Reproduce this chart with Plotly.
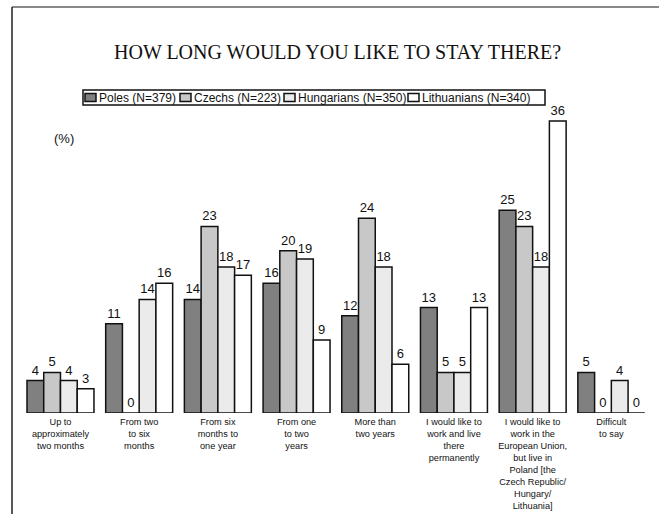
import plotly.graph_objects as go

categories = [
    "Up to<br>approximately<br>two months",
    "From two<br>to six<br>months",
    "From six<br>months to<br>one year",
    "From one<br>to two<br>years",
    "More than<br>two years",
    "I would like to<br>work and live<br>there<br>permanently",
    "I would like to<br>work in the<br>European Union,<br>but live in<br>Poland [the<br>Czech Republic/<br>Hungary/<br>Lithuania]",
    "Difficult<br>to say",
]
series_names = ["Poles (N=379)", "Czechs (N=223)", "Hungarians (N=350)", "Lithuanians (N=340)"]
poles = [4, 11, 14, 16, 12, 13, 25, 5]
czechs = [5, 0, 23, 20, 24, 5, 23, 0]
hungarians = [4, 14, 18, 19, 18, 5, 18, 4]
lithuanians = [3, 16, 17, 9, 6, 13, 36, 0]
series_values = [poles, czechs, hungarians, lithuanians]
series_colors = ["#808080", "#c8c8c8", "#ebebeb", "#ffffff"]

W, H = 659, 514
L, R, T, B = 12, 8, 60, 101
PW, PH = W - L - R, H - T - B


def px(x):
    return (x - L) / PW


def py(y):
    return (H - B - y) / PH


xs = list(range(len(categories)))
fig = go.Figure()
for name, vals, col in zip(series_names, series_values, series_colors):
    fig.add_trace(go.Bar(
        x=xs, y=vals, name=name,
        marker=dict(color=col, line=dict(color="#111111", width=1.5)),
        text=[str(v) for v in vals], textposition="outside",
        textfont=dict(family="Arial", size=13, color="#111111"),
        cliponaxis=False, showlegend=False,
    ))

shapes = []
annotations = []
# frame lines
shapes.append(dict(type="line", xref="paper", yref="paper", x0=px(12), x1=px(W), y0=py(7), y1=py(7),
                   line=dict(color="#888888", width=2)))
shapes.append(dict(type="line", xref="paper", yref="paper", x0=px(12), x1=px(12), y0=py(7), y1=py(H),
                   line=dict(color="#222222", width=1.5)))
# custom legend
shapes.append(dict(type="rect", xref="paper", yref="paper", x0=px(83), x1=px(545), y0=py(90), y1=py(105),
                   line=dict(color="#111111", width=1.5), fillcolor="white"))
leg_x = [85, 180, 284, 408]
for lx, name, col in zip(leg_x, series_names, series_colors):
    shapes.append(dict(type="rect", xref="paper", yref="paper", x0=px(lx), x1=px(lx + 11),
                       y0=py(93.5), y1=py(101.5), line=dict(color="#111111", width=1.5), fillcolor=col))
    annotations.append(dict(xref="paper", yref="paper", x=px(lx + 12), y=py(97.5), text=name,
                            showarrow=False, xanchor="left", yanchor="middle",
                            font=dict(family="Arial", size=12, color="#111111")))

annotations.append(dict(xref="paper", yref="paper", x=px(337), y=py(52),
                        text="HOW LONG WOULD YOU LIKE TO STAY THERE?", showarrow=False,
                        xanchor="center", yanchor="middle",
                        font=dict(family="Liberation Serif", size=20, color="#111111")))
annotations.append(dict(xref="paper", yref="paper", x=px(64), y=py(138), text="(%)",
                        showarrow=False, xanchor="center", yanchor="middle",
                        font=dict(family="Arial", size=13, color="#111111")))

fig.update_layout(
    width=W, height=H,
    margin=dict(l=L, r=R, t=T, b=B, pad=0, autoexpand=False),
    paper_bgcolor="white", plot_bgcolor="white",
    barmode="group", bargap=0.149, bargroupgap=0,
    shapes=shapes, annotations=annotations,
    xaxis=dict(range=[-0.616, 7.504], tickvals=xs, ticktext=categories, showgrid=False,
               zeroline=False, showline=False, ticks="", ticklabelstandoff=2, automargin=False,
               tickfont=dict(family="Arial", size=9.2, color="#111111")),
    yaxis=dict(range=[0, PH / 8.11], visible=False, showgrid=False, zeroline=False),
)
fig.write_html("out.html")
